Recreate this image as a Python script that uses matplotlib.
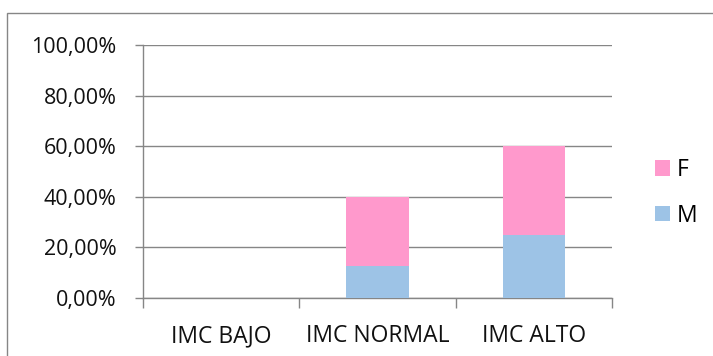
import matplotlib

matplotlib.use("Agg")
import matplotlib.pyplot as plt
from matplotlib.patches import Rectangle
from matplotlib.ticker import FuncFormatter, FixedLocator

categories = ["IMC BAJO", "IMC NORMAL", "IMC ALTO"]
series_m = [0.0, 12.5, 25.0]
series_f = [0.0, 27.5, 35.0]
y_ticks = [0, 20, 40, 60, 80, 100]

COLOR_M = "#9DC3E6"
COLOR_F = "#FF99CC"
GRID = "#868686"

plt.rcParams.update({
    "font.family": ["Open Sans", "DejaVu Sans"],
    "font.size": 15,
})

fig = plt.figure(figsize=(7.13, 3.56), dpi=100)
ax = fig.add_axes([143 / 713, 1 - 298 / 356, (612 - 143) / 713, (298 - 45) / 356])

x = list(range(len(categories)))
ax.bar(x, series_m, width=0.4, color=COLOR_M, label="M", zorder=3)
ax.bar(x, series_f, width=0.4, bottom=series_m, color=COLOR_F, label="F", zorder=3)

ax.set_xlim(-0.5, len(categories) - 0.5)
ax.set_ylim(0, 100)
ax.set_yticks(y_ticks)
ax.yaxis.set_major_formatter(FuncFormatter(lambda v, _: f"{v:.2f}%".replace(".", ",")))
ax.grid(axis="y", color=GRID, lw=1, zorder=0)

# category labels on minor ticks, boundary ticks on major
ax.xaxis.set_major_locator(FixedLocator([i - 0.5 for i in range(len(categories) + 1)]))
ax.xaxis.set_major_formatter(FuncFormatter(lambda v, _: ""))
ax.xaxis.set_minor_locator(FixedLocator(x))
ax.set_xticklabels(categories, minor=True, fontsize=16.5)
ax.tick_params(axis="x", which="major", length=7, color=GRID, width=1)
ax.tick_params(axis="x", which="minor", length=0, pad=19)
ax.tick_params(axis="y", length=6, color=GRID, width=1, pad=13, labelsize=15.5,
               labelcolor="#111111")
ax.tick_params(axis="x", which="minor", labelcolor="#111111")

for side in ("top", "right"):
    ax.spines[side].set_visible(False)
for side in ("left", "bottom"):
    ax.spines[side].set_color(GRID)
    ax.spines[side].set_linewidth(1)

handles, labels = ax.get_legend_handles_labels()
ax.legend(handles[::-1], labels[::-1], loc="center left", bbox_to_anchor=(1.092, 0.415),
          frameon=False, borderpad=0, borderaxespad=0,
          handlelength=0.65, handleheight=0.65, handletextpad=0.3,
          labelspacing=0.95, fontsize=16.5)

# outer chart border
fig.patches.append(Rectangle((7 / 713, -0.1), 1.1, 1 - 13 / 356 + 0.1,
                             transform=fig.transFigure, fill=False,
                             edgecolor=GRID, lw=1))

fig.savefig("out.png", dpi=100)
